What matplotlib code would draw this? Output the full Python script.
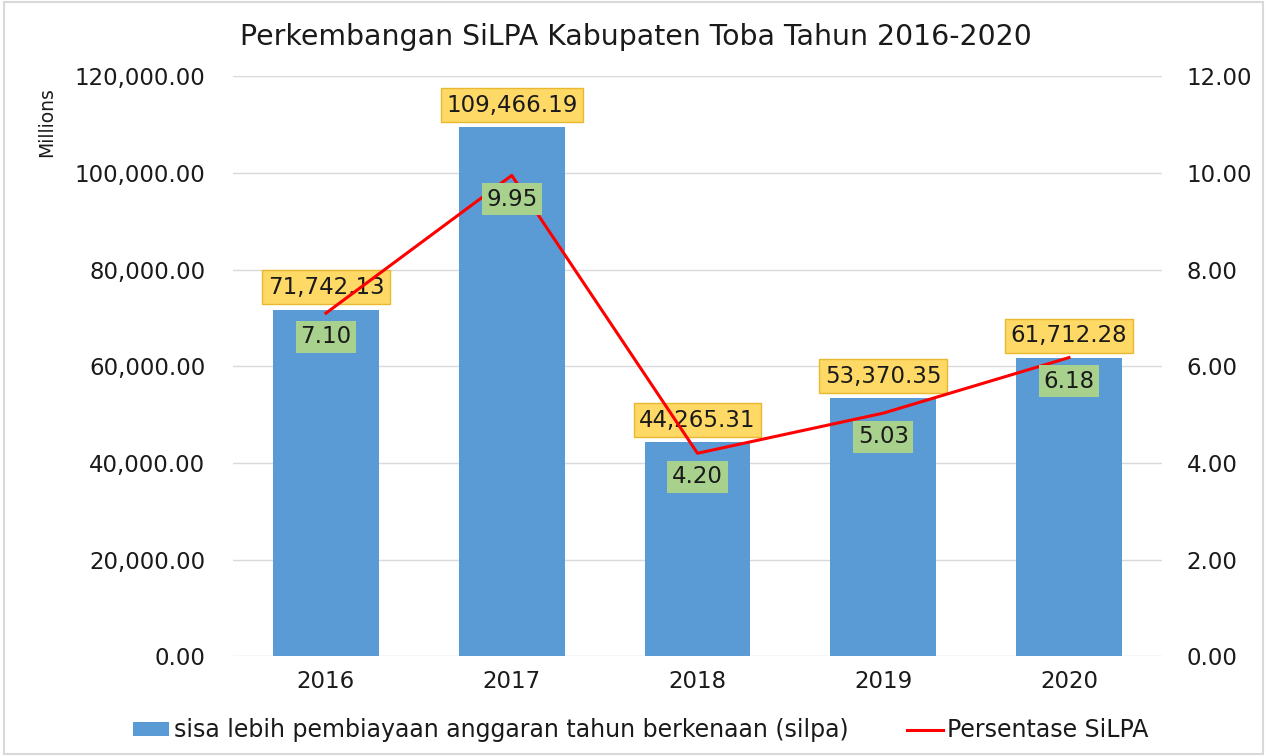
import matplotlib.pyplot as plt
from matplotlib.patches import Rectangle
from matplotlib.ticker import FuncFormatter

plt.rcParams["font.family"] = ["DejaVu Sans"]

years = ["2016", "2017", "2018", "2019", "2020"]
silpa = [71742.13, 109466.19, 44265.31, 53370.35, 61712.28]  # millions
persen = [7.10, 9.95, 4.20, 5.03, 6.18]

BAR_C = "#5B9BD5"
LINE_C = "#FF0000"
TXT_C = "#1a1a1a"

fig = plt.figure(figsize=(12.67, 7.56), dpi=100)
ax = fig.add_axes([0.184, 0.132, 0.733, 0.767])
ax2 = ax.twinx()

x = list(range(len(years)))
ax.bar(x, silpa, width=0.57, color=BAR_C, zorder=2,
       label="sisa lebih pembiayaan anggaran tahun berkenaan (silpa)")
ax.set_ylim(0, 120000)
ax.set_xlim(-0.5, 4.5)
ax.set_yticks(range(0, 120001, 20000))
ax.yaxis.set_major_formatter(FuncFormatter(lambda v, p: f"{v:,.2f}"))
ax.grid(axis="y", color="#D9D9D9", lw=1, zorder=0)
ax.set_axisbelow(True)
ax.set_xticks(x)
ax.set_xticklabels(years)

ax2.plot(x, persen, color=LINE_C, lw=2.2, zorder=3, label="Persentase SiLPA")
ax2.set_ylim(0, 12)
ax2.set_yticks(range(0, 13, 2))
ax2.yaxis.set_major_formatter(FuncFormatter(lambda v, p: f"{v:.2f}"))

for a in (ax, ax2):
    for s in a.spines.values():
        s.set_visible(False)
    a.tick_params(length=0, labelsize=16.5, colors=TXT_C)
ax.tick_params(axis="y", pad=20)
ax.tick_params(axis="x", pad=10)
ax2.tick_params(axis="y", pad=18)

# data labels
for xi, v in zip(x, silpa):
    ax.annotate(f"{v:,.2f}", (xi, v), xytext=(0, 16), textcoords="offset points",
                ha="center", va="center", fontsize=16.5, color=TXT_C, zorder=5,
                bbox=dict(boxstyle="square,pad=0.24", fc="#FFD966", ec="#E8B830", lw=1))
for xi, v in zip(x, persen):
    ax2.annotate(f"{v:.2f}", (xi, v), xytext=(0, -17), textcoords="offset points",
                 ha="center", va="center", fontsize=16.5, color=TXT_C, zorder=5,
                 bbox=dict(boxstyle="square,pad=0.2", fc="#A9D18E", ec="none"))

fig.text(0.037, 0.838, "Millions", rotation=90, ha="center", va="center",
         fontsize=13.5, color=TXT_C)
fig.text(0.502, 0.951, "Perkembangan SiLPA Kabupaten Toba Tahun 2016-2020",
         ha="center", va="center", fontsize=20.4, color=TXT_C)

h1, l1 = ax.get_legend_handles_labels()
h2, l2 = ax2.get_legend_handles_labels()
fig.legend(h1 + h2, l1 + l2, loc="center", bbox_to_anchor=(0.506, 0.034), ncol=2,
           frameon=False, fontsize=17, handlelength=1.5, handleheight=0.5,
           handletextpad=0.2, columnspacing=2.5, labelcolor=TXT_C)

fig.add_artist(Rectangle((0.003, 0.003), 0.994, 0.994, transform=fig.transFigure,
                         fill=False, ec="#D9D9D9", lw=1.5))

fig.savefig("out.png", dpi=100)
